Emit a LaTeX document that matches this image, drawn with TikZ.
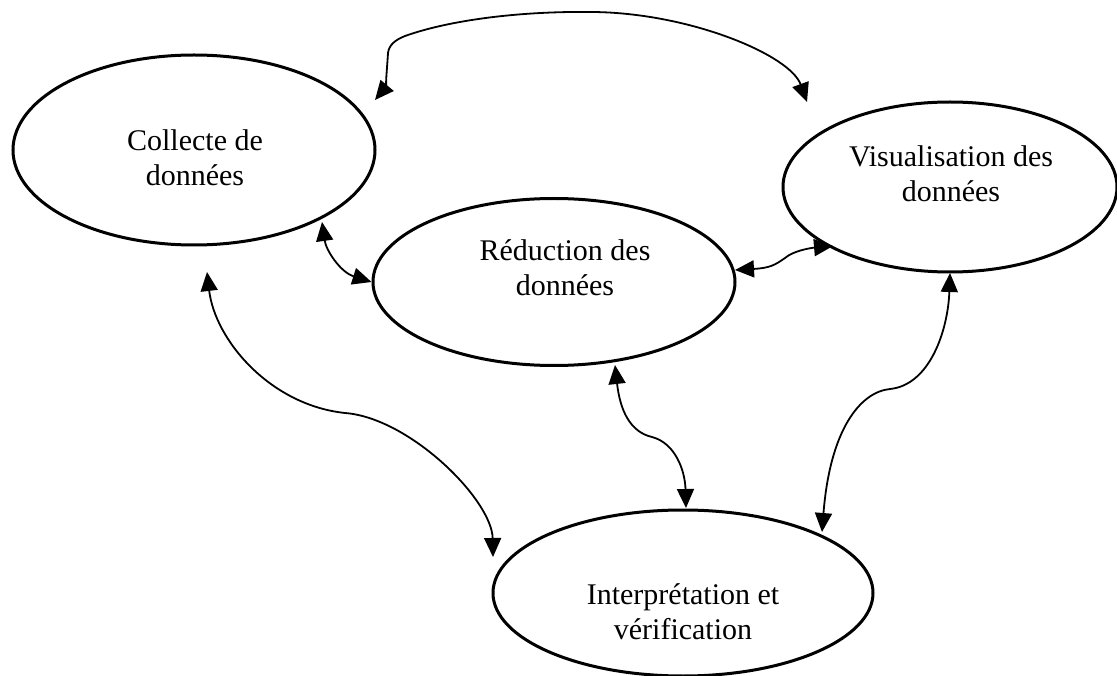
\documentclass[tikz,border=0pt]{standalone}
\usepackage{fontspec}
\setmainfont{Liberation Serif}
\usetikzlibrary{shapes.geometric,arrows.meta}
\begin{document}
\begin{tikzpicture}[x=1pt,y=1pt,
  bubble/.style={ellipse,draw,line width=3pt,inner sep=0pt},
  lbl/.style={align=center,inner sep=0pt,font=\fontsize{30}{34.5}\selectfont},
  link/.style={line width=1.8pt,{Triangle[length=19pt,width=17pt]}-{Triangle[length=19pt,width=17pt]}}]
\useasboundingbox (0,0) rectangle (1117,-676);
% ellipses
\node[bubble,minimum width=362pt,minimum height=190pt] (coll) at (194,-150) {};
\node[bubble,minimum width=334pt,minimum height=170pt] (vis) at (950,-187) {};
\node[bubble,minimum width=362pt,minimum height=167pt] (red) at (554,-282) {};
\node[bubble,minimum width=380pt,minimum height=166pt] (interp) at (683,-593) {};
% labels
\node[lbl] (collT) at (195,-157.5) {Collecte de\\données};
\node[lbl] (visT) at (951,-173.5) {Visualisation des\\données};
\node[lbl] (redT) at (565,-267.5) {Réduction des\\données};
\node[lbl] (interpT) at (683,-611.5) {Interprétation et\\vérification};
% free ends
\coordinate (a1) at (375,-100);
\coordinate (b1) at (807,-102);
\coordinate (a2) at (322,-222);
\coordinate (a3) at (735,-270);
\coordinate (b3) at (833,-246);
\coordinate (a4) at (207,-272);
\coordinate (b4) at (493,-557);
\coordinate (a5) at (615,-365);
\coordinate (b5) at (686,-508);
\coordinate (a6) at (950,-273);
\coordinate (b6) at (822,-532);
% connectors
\draw[link] (a1) .. controls (385,-88) and (387,-70) .. (388,-53)
  .. controls (389,-45) and (395,-40) .. (405,-36)
  .. controls (450,-20) and (520,-11) .. (593,-12)
  .. controls (690,-13) and (790,-55) .. (b1);
\draw[link] (a2) .. controls (326,-250) and (340,-272) .. (red.west);
\draw[link] (a3) .. controls (770,-268) and (775,-265) .. (785,-258)
  .. controls (793,-251) and (810,-248) .. (b3);
\draw[link] (a4) .. controls (215,-340) and (270,-405) .. (345,-413)
  .. controls (410,-418) and (492,-500) .. (b4);
\draw[link] (a5) .. controls (620,-410) and (630,-432) .. (652,-437)
  .. controls (675,-443) and (685,-470) .. (b5);
\draw[link] (a6) .. controls (948,-330) and (930,-385) .. (890,-389)
  .. controls (860,-392) and (830,-430) .. (b6);
\end{tikzpicture}
\end{document}
